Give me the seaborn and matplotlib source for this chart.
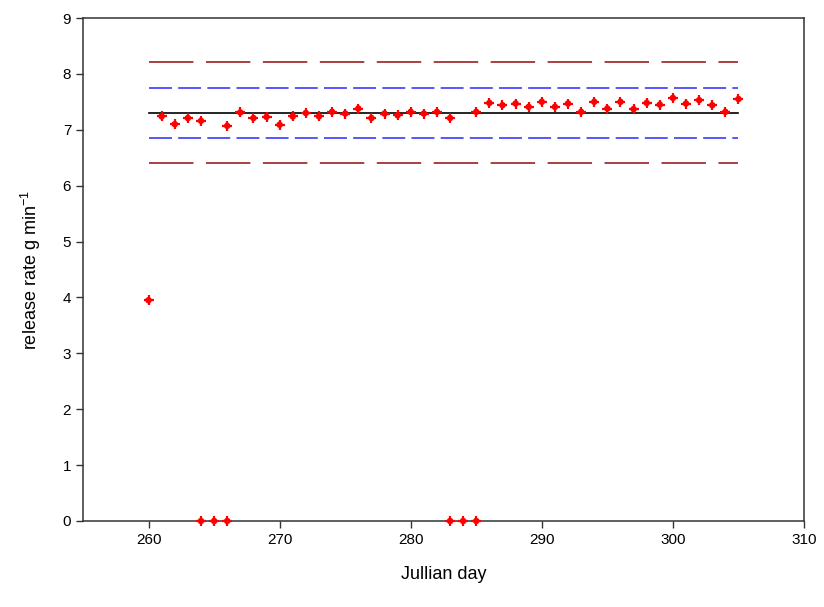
import matplotlib
matplotlib.use("Agg")
import matplotlib.pyplot as plt
import seaborn as sns
import pandas as pd

# Julian day and release rate (g/min)
days = [260, 261, 262, 263, 264, 266, 267, 268, 269, 270, 271, 272, 273, 274,
        275, 276, 277, 278, 279, 280, 281, 282, 283, 285, 286, 287, 288, 289,
        290, 291, 292, 293, 294, 295, 296, 297, 298, 299, 300, 301, 302, 303,
        304, 305,
        264, 265, 266, 283, 284, 285]
rates = [3.95, 7.24, 7.10, 7.21, 7.16, 7.07, 7.31, 7.21, 7.23, 7.09, 7.24, 7.30,
         7.24, 7.32, 7.29, 7.38, 7.21, 7.29, 7.26, 7.32, 7.29, 7.32, 7.21, 7.32,
         7.48, 7.44, 7.47, 7.41, 7.50, 7.41, 7.47, 7.32, 7.50, 7.38, 7.50, 7.37,
         7.48, 7.45, 7.57, 7.47, 7.53, 7.44, 7.32, 7.55,
         0, 0, 0, 0, 0, 0]

line_span = [260, 305]
mean_rate = 7.30
inner_limits = [7.75, 6.86]
outer_limits = [8.21, 6.41]

df = pd.DataFrame({"day": days, "rate": rates})

plt.rcParams["font.family"] = ["Liberation Sans", "DejaVu Sans"]
plt.rcParams["mathtext.default"] = "regular"
plt.rcParams["lines.scale_dashes"] = False

fig = plt.figure(figsize=(8.24, 6.07), dpi=100)
ax = fig.add_axes([83 / 824, 1 - 521 / 607, (804 - 83) / 824, (521 - 18) / 607])

for lim in outer_limits:
    ax.plot(line_span, [lim, lim], color="#9b2020", lw=1.2, dashes=(32, 9))
for lim in inner_limits:
    ax.plot(line_span, [lim, lim], color="#3a3aff", lw=1.2, dashes=(16.5, 4.5))
ax.plot(line_span, [mean_rate, mean_rate], color="black", lw=1.2)

# dots with small error-bar stubs
sns.scatterplot(data=df, x="day", y="rate", ax=ax, color="red", marker="o",
                s=22, edgecolor="none", zorder=5, clip_on=False)
sns.scatterplot(data=df, x="day", y="rate", ax=ax, color="red", marker="+",
                s=45, linewidth=1.6, zorder=5, clip_on=False)

ax.set_xlim(255, 310)
ax.set_ylim(0, 9)
ax.set_xticks([260, 270, 280, 290, 300, 310])
ax.set_yticks(range(10))
ax.tick_params(direction="out", length=5, width=1, colors="#333333",
               labelsize=11, labelcolor="black")
for sp in ax.spines.values():
    sp.set_color("#333333")
    sp.set_linewidth(1.1)

ax.set_xlabel("Jullian day", fontsize=13, labelpad=14)
ax.set_ylabel("release rate g min$^{-1}$", fontsize=13, labelpad=14)

fig.savefig("out.png", dpi=100)
